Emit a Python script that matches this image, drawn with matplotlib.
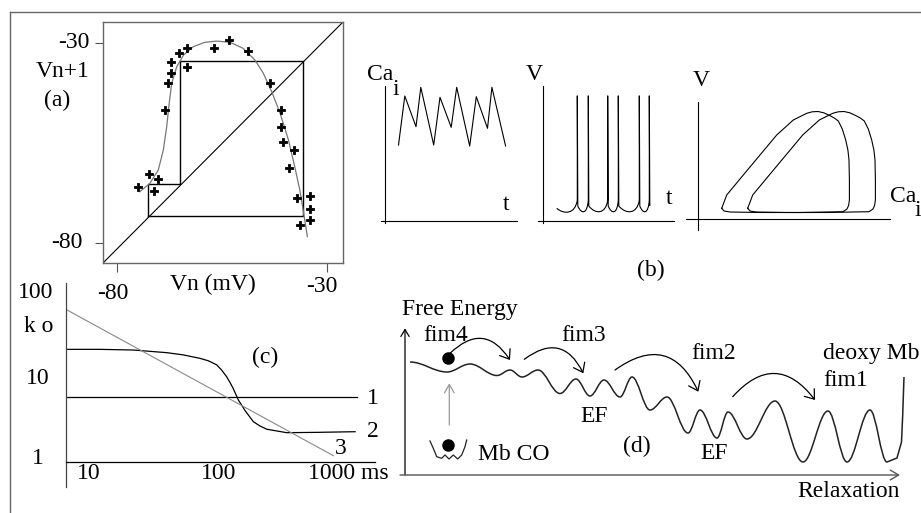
import numpy as np
import matplotlib.pyplot as plt
from matplotlib.path import Path
from matplotlib.patches import PathPatch, FancyArrowPatch
from matplotlib.lines import Line2D
from matplotlib.ticker import NullLocator

plt.rcParams['font.family'] = ['Liberation Serif', 'DejaVu Serif']
plt.rcParams['font.size'] = 17

W, H = 921, 513

# ---------------- (a) return map Vn -> Vn+1 (mV) ----------------
map_vn = [-74.9, -72.2, -70.1, -71.1, -68.5, -67.7, -67.1, -67.1, -65.2, -63.2, -63.2, -56.8, -53.2,
          -48.7, -43.5, -40.9, -40.9, -40.3, -37.8, -38.9, -37.1, -34.0, -34.0, -34.0, -36.4]
map_vn1 = [-66.1, -62.8, -64.1, -66.9, -46.8, -40.0, -37.5, -34.7, -32.6, -31.2, -36.0, -31.4, -29.3,
           -32.1, -40.0, -46.8, -51.0, -54.7, -56.8, -61.4, -68.8, -68.2, -71.5, -74.3, -75.5]
fit_vn = [-74.5, -72.1, -70.1, -68.9, -68.1, -67.5, -66.9, -65.7, -64.1, -61.8, -59.0, -56.2, -53.0,
          -49.9, -47.1, -45.1, -43.1, -41.1, -39.1, -37.6, -36.4, -35.6, -34.6]
fit_vn1 = [-67.2, -65.1, -61.8, -56.8, -51.0, -45.1, -40.1, -36.0, -33.1, -31.0, -29.9, -29.6, -29.9,
           -31.4, -34.3, -37.6, -42.2, -47.6, -54.3, -61.0, -66.8, -71.8, -78.4]
cob_vn = [-72.5, -72.5, -64.9, -64.9, -35.7, -35.7, -72.5]
cob_vn1 = [-73.3, -65.3, -65.3, -34.6, -34.6, -73.3, -73.3]

# ---------------- (b) sketches (arbitrary units) ----------------
cai_t = [13.3, 19.6, 30.8, 35.6, 48.5, 54.8, 66.0, 71.5, 84.5, 91.1, 102.3, 106.7, 120.4]
cai_v = [76, 125, 94.3, 133.7, 76, 123.7, 93.7, 133.7, 75, 124.3, 92.7, 133.7, 75]
spike_t = [34.3, 45.3, 64.7, 75.3, 96.3, 106.3]
v_start = (13.7, 12.7)
v_top, v_join, v_after, v_low = 125.3, 21.0, 15.0, 6.5
loop_ca = [23.4, 28.4, 45.0, 61.7, 78.4, 95.0, 108.4, 114.0, 119.7, 125.5, 131.7, 136.0, 140.0,
           144.0, 147.4, 149.6, 150.7, 151.1, 151.1, 150.3, 148.7, 144.7, 101.7, 61.7, 31.7, 25.7, 23.4]
loop_v = [10.7, 24.0, 44.0, 64.0, 84.0, 99.0, 105.7, 107.2, 107.5, 106.2, 103.3, 101.0, 98.0,
          90.0, 79.0, 69.0, 59.0, 39.0, 19.0, 13.5, 10.0, 7.3, 6.5, 6.5, 7.0, 8.0, 10.7]
loop_shift = [0, 26]

# ---------------- (c) ko vs time (ms), log-log ----------------
t1 = [6.7, 1160]
ko1 = [5.87, 5.87]
t2 = [6.8, 12.3, 22.2, 40.1, 53.8, 72.3, 83.8, 97.2, 106, 116, 123, 130, 143, 151, 160, 186,
      209, 236, 336, 571, 1127]
ko2 = [21.9, 21.9, 21.5, 20.0, 18.8, 17.1, 16.0, 14.3, 12.4, 10.3, 8.8, 7.5, 5.4, 4.75, 4.1, 3.0,
       2.67, 2.44, 2.22, 2.24, 2.28]
t3 = [6.7, 767]
ko3 = [65.9, 1.18]

# ---------------- (d) free energy landscape (arbitrary units) ----------------
land_x = [5, 42, 65, 92, 105, 117, 133, 155, 171, 185, 199, 215, 227, 245, 262, 283, 295, 312,
          323, 342, 370, 398, 423, 442, 465, 482]
land_y = [113, 103, 111, 99.5, 105, 98, 105, 81.5, 96, 79, 95, 78, 98, 65, 78, 42, 65, 37,
          63, 36, 74, 13, 64, 13, 65, 13]
tail_x = [492, 496.5, 497.7, 499]
tail_y = [17, 33, 60, 98]
well_x = [25, 28.3, 31.7, 36.7, 40, 44, 48.3, 52.7, 56.7, 60, 61.7]
well_y = [34, 26.7, 18.3, 16.7, 20, 16, 20, 16, 20, 28.3, 35]
hop_start = [(45, 121.7), (119.3, 115.7), (210, 105), (327.7, 78.3)]
hop_end = [(105, 115), (178.3, 101.7), (293.3, 83.3), (410, 75)]
dot_x = [43.3, 43.3]
dot_y = [116.7, 30]

fig = plt.figure(figsize=(W / 100, H / 100), dpi=100)


def box(x0, y0, x1, y1):
    return [x0 / W, 1 - y1 / H, (x1 - x0) / W, (y1 - y0) / H]


def ftext(x, y, s, ha='center', **kw):
    fig.text(x / W, 1 - y / H, s, ha=ha, va='center', **kw)


def origin_axes(x0, y0, x1, y1, ox, oy):
    ax = fig.add_axes(box(x0, y0, x1, y1))
    ax.set_xlim(x0 - ox, x1 - ox)
    ax.set_ylim(oy - y1, oy - y0)
    ax.patch.set_visible(False)
    ax.set_xticks([])
    ax.set_yticks([])
    return ax


def sketch_axes(ax, xb, yb):
    for s in ['top', 'right']:
        ax.spines[s].set_visible(False)
    ax.spines['left'].set_position(('data', 0))
    ax.spines['left'].set_bounds(*yb)
    ax.spines['bottom'].set_position(('data', 0))
    ax.spines['bottom'].set_bounds(*xb)
    for s in ['left', 'bottom']:
        ax.spines[s].set_linewidth(0.8)


# outer frame
fig.add_artist(Line2D([10 / W, 1], [1 - 11.5 / H] * 2, color='#666', lw=1.0))
fig.add_artist(Line2D([10 / W] * 2, [0, 1 - 11.5 / H], color='#666', lw=1.0))

# ---- (a) ----
axa = fig.add_axes(box(103, 22, 343, 263))
axa.set_xlim(-83.26, -26.12)
axa.set_ylim(-84.99, -24.83)
axa.patch.set_visible(False)
for s in axa.spines.values():
    s.set_color('#666')
    s.set_linewidth(1.0)
axa.set_xticks([-80, -30])
axa.set_yticks([-80, -30])
axa.tick_params(axis='x', length=6.5, width=0.8, color='#555', labelbottom=False)
axa.tick_params(axis='y', length=5.8, width=0.8, color='#555', labelleft=False)
axa.plot([0, 1], [0, 1], transform=axa.transAxes, color='k', lw=0.8)
axa.plot(cob_vn, cob_vn1, color='k', lw=1.0)
axa.plot(fit_vn, fit_vn1, color='#777', lw=0.9)
axa.plot(map_vn, map_vn1, ls='none', marker='P', ms=6, color='k', mec='k', mew=0.6)

ftext(89, 42.7, '-30', ha='right')
ftext(62.5, 71.7, 'Vn+1')
ftext(57.5, 100, '(a)')
ftext(82, 242.3, '-80', ha='right')
ftext(112.5, 293.3, '-80')
ftext(213.3, 284.3, 'Vn (mV)')
ftext(321.7, 286.7, '-30')

# ---- (b) ----
ax1 = origin_axes(372, 80, 520, 230, 385.2, 221)
sketch_axes(ax1, (-4.4, 131.9), (-2.3, 135))
ax1.plot(cai_t, cai_v, color='k', lw=0.8)

ax2 = origin_axes(530, 80, 676, 230, 543, 221)
sketch_axes(ax2, (-4.8, 130.5), (-2.3, 135))
verts = [v_start]
codes = [Path.MOVETO]
prev_t, prev_v = v_start
for ts in spike_t:
    dt = ts - prev_t
    verts += [(prev_t + 0.35 * dt, v_low), (ts - 0.1 * dt, v_low), (ts, v_join)]
    codes += [Path.CURVE4] * 3
    verts += [(ts, v_top), (ts + 0.5, v_after)]
    codes += [Path.LINETO] * 2
    prev_t, prev_v = ts + 0.5, v_after
ax2.add_patch(PathPatch(Path(verts, codes), fill=False, color='k', lw=0.8))

ax3 = origin_axes(684, 90, 900, 235, 698.3, 219)
sketch_axes(ax3, (-11.9, 191.9), (-11, 117.3))
for sh in loop_shift:
    ax3.plot(np.array(loop_ca) + sh, loop_v, color='k', lw=0.8)

ftext(379.8, 75, 'Ca')
ftext(395.6, 89.3, 'i')
ftext(505.6, 205, 't')
ftext(534.5, 75, 'V')
ftext(669, 199, 't')
ftext(701.2, 80, 'V')
ftext(890, 196.7, 'Ca', ha='left')
ftext(918, 210.7, 'i')
ftext(651, 270, '(b)')

# ---- (c) ----
axc = fig.add_axes(box(65.7, 283, 375, 486.7))
axc.set_xscale('log')
axc.set_yscale('log')
axc.set_xlim(10 ** 0.826, 10 ** 3.205)
axc.set_ylim(10 ** -0.298, 10 ** 2.132)
axc.patch.set_visible(False)
for s in ['top', 'right']:
    axc.spines[s].set_visible(False)
axc.spines['bottom'].set_position(('data', 1))
axc.spines['left'].set_color('#444')
for s in ['left', 'bottom']:
    axc.spines[s].set_linewidth(0.9)
axc.xaxis.set_minor_locator(NullLocator())
axc.yaxis.set_minor_locator(NullLocator())
axc.set_yticks([])
axc.set_xticks([10, 100, 1000], labels=['10', '100', '1000 ms'])
axc.tick_params(axis='x', length=0, pad=1.0, labelsize=17)
axc.plot(t1, ko1, color='k', lw=0.9)
axc.plot(t2, ko2, color='k', lw=0.9)
axc.plot(t3, ko3, color='#888', lw=0.8)

ftext(53.3, 292.7, '100', ha='right')
ftext(53, 326, 'k o', ha='right')
ftext(50, 378.3, '10', ha='right')
ftext(38.3, 458.3, '1')
ftext(265, 357.3, '(c)')
ftext(372.5, 398.3, '1')
ftext(372.5, 431.7, '2')
ftext(341, 448.3, '3')

# ---- (d) ----
axd = origin_axes(395, 300, 921, 485, 405, 475)
for s in axd.spines.values():
    s.set_visible(False)
axd.add_patch(FancyArrowPatch((0, 0), (0, 146.7), arrowstyle='->,head_length=0.5,head_width=0.3',
                              mutation_scale=10, color='k', lw=0.9, shrinkA=0, shrinkB=0))
axd.add_patch(FancyArrowPatch((-5, 0), (495, 0), arrowstyle='->,head_length=0.6,head_width=0.35',
                              mutation_scale=10, color='#555', lw=1.0, shrinkA=0, shrinkB=0))

verts = [(land_x[0], land_y[0])]
codes = [Path.MOVETO]
for x0, y0, x1, y1 in zip(land_x[:-1], land_y[:-1], land_x[1:], land_y[1:]):
    d = (x1 - x0) * 0.36
    verts += [(x0 + d, y0), (x1 - d, y1), (x1, y1)]
    codes += [Path.CURVE4] * 3
verts += list(zip(tail_x, tail_y))
codes += [Path.LINETO] * len(tail_x)
axd.add_patch(PathPatch(Path(verts, codes), fill=False, color='#222', lw=1.1))

axd.plot(well_x, well_y, color='#222', lw=0.9)
axd.plot(dot_x, dot_y, ls='none', marker='o', ms=8, color='k')
axd.add_patch(FancyArrowPatch((44.3, 50), (44.3, 91.7), arrowstyle='->,head_length=0.6,head_width=0.35',
                              mutation_scale=10, color='#999', lw=0.9, shrinkA=0, shrinkB=0))
for (xs, ys), (xe, ye) in zip(hop_start, hop_end):
    axd.add_patch(FancyArrowPatch((xs, ys), (xe, ye), connectionstyle='arc3,rad=-0.6',
                                  arrowstyle='->,head_length=0.6,head_width=0.45',
                                  mutation_scale=10, color='k', lw=0.9, shrinkA=0, shrinkB=0))

ftext(402.4, 310, 'Free Energy', ha='left')
ftext(423.3, 335.7, 'fim4', ha='left')
ftext(561.7, 335.7, 'fim3', ha='left')
ftext(580, 416.7, 'EF', ha='left')
ftext(478.3, 455, 'Mb CO', ha='left')
ftext(691.7, 353.3, 'fim2', ha='left')
ftext(823.3, 353.3, 'deoxy Mb', ha='left')
ftext(823.3, 380, 'fim1', ha='left')
ftext(623.3, 446.7, '(d)', ha='left')
ftext(700, 453.3, 'EF', ha='left')
ftext(797.5, 491.7, 'Relaxation', ha='left')

plt.savefig('out.png', dpi=100)
